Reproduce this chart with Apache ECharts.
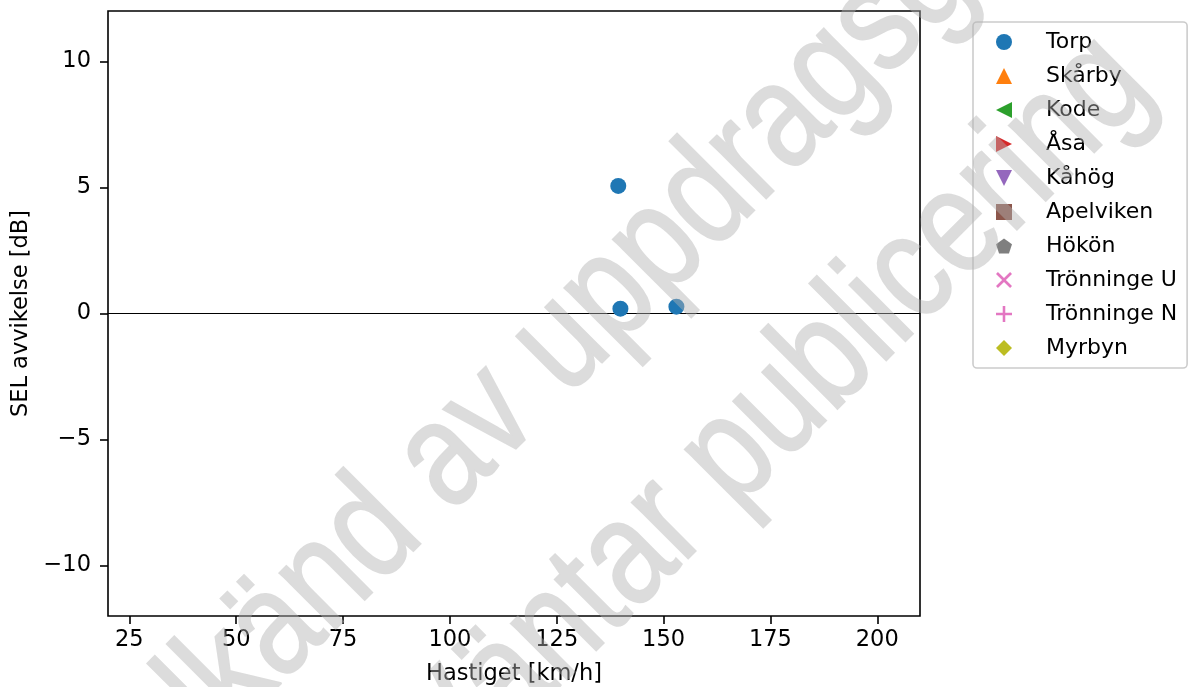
<!DOCTYPE html>
<html>
<head>
<meta charset="utf-8">
<script src="https://cdn.jsdelivr.net/npm/echarts@6/dist/echarts.min.js"></script>
<style>
html,body{margin:0;padding:0;background:#fff;}
#chart{width:1188px;height:687px;}
</style>
</head>
<body>
<div id="chart"></div>
<script>
// ---- data ----
const seriesNames = ['Torp','Skårby','Kode','Åsa','Kåhög','Apelviken','Hökön','Trönninge U','Trönninge N','Myrbyn'];
const seriesColors = ['#1f77b4','#ff7f0e','#2ca02c','#d62728','#9467bd','#8c564b','#7f7f7f','#e377c2','#e377c2','#bcbd22'];
const seriesSymbols = [
  'circle',
  'triangle',
  'path://M0,50L100,0L100,100Z',
  'path://M100,50L0,0L0,100Z',
  'path://M0,0L100,0L50,100Z',
  'rect',
  'path://M50,0L97.6,34.5L79.4,90.5L20.6,90.5L2.4,34.5Z',
  'path://M0,12L12,0L50,38L88,0L100,12L62,50L100,88L88,100L50,62L12,100L0,88L38,50Z',
  'path://M42,0H58V42H100V58H58V100H42V58H0V42H42Z',
  'diamond'
];
// Torp measurements: speed [km/h] and SEL deviation [dB]
const torpSpeed = [139.4, 139.9, 153.0];
const torpDeviation = [5.06, 0.19, 0.27];
const xTicks = [25, 50, 75, 100, 125, 150, 175, 200];
const yTicks = [-10, -5, 0, 5, 10];
const xName = 'Hastiget [km/h]';
const yName = 'SEL avvikelse [dB]';
const watermark1 = ['Ej godkänd', ' av uppdragsgivare'];
const watermark2 = ['Väntar pub', 'licering'];

const FONT = 'DejaVu Sans';
const seriesData = {
  'Torp': torpSpeed.map((s, i) => [s, torpDeviation[i]])
};

const fmtMinus = v => (v < 0 ? '\u2212' + Math.abs(v) : String(v));

const series = seriesNames.map((name, i) => {
  const s = {
    name: name,
    type: 'scatter',
    data: seriesData[name] || [],
    symbol: seriesSymbols[i],
    symbolSize: 16,
    itemStyle: { color: seriesColors[i], opacity: 1 },
    z: 3
  };
  if (i === 0) {
    s.markLine = {
      silent: true,
      symbol: 'none',
      z: 1,
      label: { show: false },
      lineStyle: { color: '#000', width: 1.2, type: 'solid' },
      emphasis: { disabled: true },
      data: [{ yAxis: 0 }]
    };
  }
  return s;
});

const wmFont = '150px "Liberation Sans"';
const wmColor = '#b2b2b2';
function wm(text, x, y, align) {
  return {
    type: 'text', zlevel: 1, z: 100, silent: true,
    x: x, y: y, rotation: Math.PI / 4, scaleX: 0.82, scaleY: 1,
    style: { text: text, font: wmFont, fill: wmColor, stroke: wmColor, lineWidth: 2, lineJoin: 'round', align: align, verticalAlign: 'middle' }
  };
}

const option = {
  animation: false,
  backgroundColor: '#fff',
  grid: {
    left: 108, top: 11, right: 268, bottom: 71,
    outerBoundsMode: 'none',
    containLabel: false,
    show: true, borderColor: '#000', borderWidth: 1.6, backgroundColor: 'transparent'
  },
  xAxis: {
    type: 'value', min: 20, max: 210,
    name: xName, nameLocation: 'middle', nameGap: 47,
    nameTextStyle: { fontFamily: FONT, fontSize: 22.5, color: '#000' },
    axisLine: { show: false, onZero: false },
    axisTick: { show: true, length: 8, inside: false, customValues: xTicks, lineStyle: { color: '#000', width: 1.6 } },
    axisLabel: { customValues: xTicks, margin: 13, fontFamily: FONT, fontSize: 22.5, color: '#000', formatter: fmtMinus },
    splitLine: { show: false }
  },
  yAxis: {
    type: 'value', min: -12, max: 12,
    name: yName, nameLocation: 'middle', nameGap: 68,
    nameTextStyle: { fontFamily: FONT, fontSize: 22.5, color: '#000' },
    axisLine: { show: false, onZero: false },
    axisTick: { show: true, length: 8, inside: false, customValues: yTicks, lineStyle: { color: '#000', width: 1.6 } },
    axisLabel: { customValues: yTicks, margin: 17, fontFamily: FONT, fontSize: 22.5, color: '#000', formatter: fmtMinus },
    splitLine: { show: false }
  },
  legend: {
    orient: 'vertical',
    left: 973, top: 22,
    padding: [8, 10, 8, 23],
    itemGap: 10,
    itemWidth: 16, itemHeight: 16,
    backgroundColor: '#fff',
    borderColor: '#cccccc', borderWidth: 1.6, borderRadius: 4,
    textStyle: { fontFamily: FONT, fontSize: 22, color: '#000', lineHeight: 24, padding: [0, 0, 0, 29] },
    data: seriesNames.map((n, i) => ({ name: n, icon: seriesSymbols[i] })),
    selectedMode: false
  },
  graphic: [
    wm(watermark1[0], 397, 509, 'right'),
    wm(watermark1[1], 397, 509, 'left'),
    wm(watermark2[0], 851, 337, 'right'),
    wm(watermark2[1], 851, 337, 'left')
  ],
  series: series
};

const chart = echarts.init(document.getElementById('chart'), null, { renderer: 'canvas' });
chart.setOption(option);
// watermark layer is semi-transparent, laid over the whole figure
(function () {
  try {
    const layer = chart.getZr().painter.getLayer(1);
    if (layer && layer.dom) layer.dom.style.opacity = '0.45';
  } catch (e) {}
})();
</script>
</body>
</html>
